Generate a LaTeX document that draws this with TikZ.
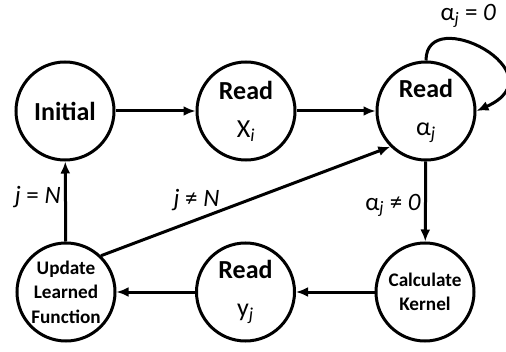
\documentclass[tikz,border=0pt]{standalone}
\usepackage{fontspec}
\setmainfont{Carlito}
\usetikzlibrary{arrows.meta,calc}

\begin{document}
\begin{tikzpicture}[x=1pt,y=1pt,
	state/.style={circle,draw,line width=3pt,minimum size=98pt,inner sep=0pt,align=center,font=\fontsize{26}{38}\selectfont},
	small_state/.style={state,font=\bfseries\fontsize{19.2}{24.5}\selectfont},
	lbl/.style={font=\fontsize{25}{30}\selectfont},
	every edge/.style={draw,line width=3pt}, >={Latex[length=12pt,width=10pt]}]
	\useasboundingbox (0,0) rectangle (506,351);
	\node[state] (init) at (65,240) {\textbf{Initial}};
	\node[state] (readx) at (246,240) {\textbf{Read}\\X\textsubscript{\textit{i}}};
	\node[state] (reada) at (426,240) {\textbf{Read}\\α\textsubscript{\textit{j}}};
	\node[small_state] (update) at (66,59) {Update\\Learned\\Function};
	\node[state] (ready) at (245.5,59) {\textbf{Read}\\y\textsubscript{\textit{j}}};
	\node[small_state] (kernel) at (425,59) {Calculate\\Kernel};
	\path[->]
	(init) edge (readx)
	(readx) edge (reada)
	(reada) edge node[left,lbl,pos=0.55] {α\textsubscript{\textit{j}} ≠ \textit{0}} (kernel)
	(kernel) edge (ready)
	(ready) edge (update)
	(update) edge node[left,lbl,pos=0.55] {\textit{j} = \textit{N}} (init)
	(update.46) edge node[pos=0.33,above=4pt,lbl] {\textit{j} ≠ \textit{N}} (reada.225);
	% self loop while alpha is zero
	\draw[->,line width=3pt] (reada.north) .. controls ($(reada.north)+(0,58)$) and ($(reada.east)+(85,38)$) .. (reada.east)
		node[pos=0.4,above=10pt,lbl] {α\textsubscript{\textit{j}} = \textit{0}};
\end{tikzpicture}
\end{document}
